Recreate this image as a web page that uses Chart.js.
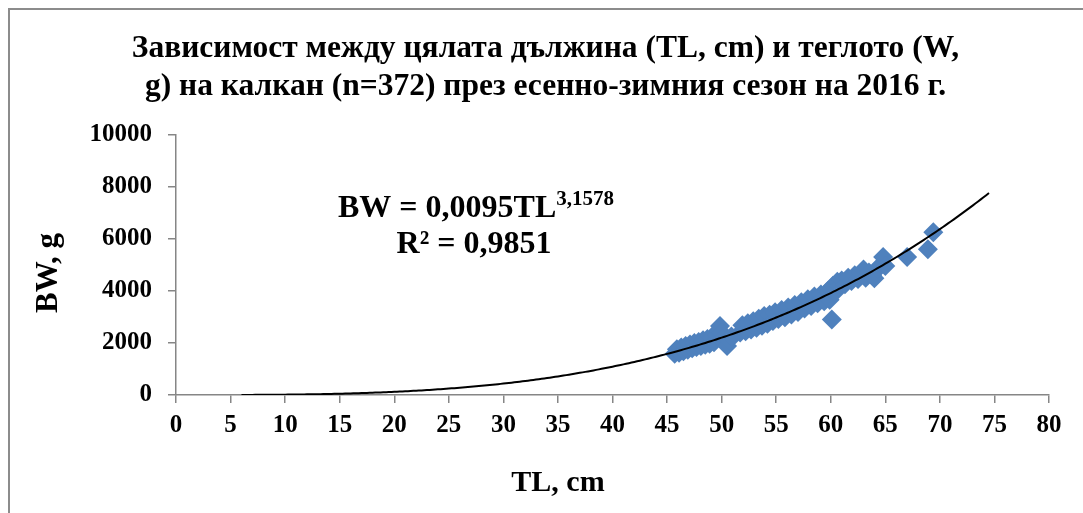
<!DOCTYPE html>
<html>
<head>
<meta charset="utf-8">
<script src="https://cdn.jsdelivr.net/npm/chart.js@4.4.1/dist/chart.umd.min.js"></script>
<style>
  html, body { margin: 0; padding: 0; background: #fff; overflow: hidden; }
  #wrap { position: relative; width: 1083px; height: 513px; }
  #frame { position: absolute; left: 8px; top: 8px; width: 1200px; height: 600px;
           border-left: 2px solid #8c8c8c; border-top: 2px solid #8c8c8c; box-sizing: border-box; }
  canvas { position: absolute; left: 0; top: 0; }
</style>
</head>
<body>
<div id="wrap">
  <div id="frame"></div>
  <canvas id="scatterChart" width="1083" height="513"></canvas>
</div>
<script>
// Data (TL in cm, BW in g)
var tl = [45.7, 45.9, 46.1, 46.3, 46.5, 46.7, 46.9, 47.1, 47.3, 47.5, 47.7, 47.9, 48.1, 48.3, 48.5,
          48.7, 48.9, 49.1, 49.3, 49.5, 49.7, 49.85, 50.0, 50.1, 50.3, 50.5, 50.7, 50.9,
          51.7, 51.9, 52.2, 52.4, 52.7, 52.9, 53.2, 53.4, 53.7, 53.9, 54.2, 54.4, 54.7, 54.9,
          55.2, 55.5, 55.8, 56.1, 56.4, 56.7, 57.0, 57.3, 57.6, 57.9, 58.2, 58.5, 58.8, 59.1,
          59.4, 59.7, 59.9, 60.0, 60.1, 60.2, 60.4, 60.6, 60.8, 61.0, 61.3, 61.6, 61.9, 62.2,
          62.5, 62.8, 63.0, 63.2, 63.5, 63.8, 64.0, 64.3, 64.6, 64.8, 65.0, 67.0, 68.9, 69.4];
var bw = [1580, 1760, 1620, 1820, 1680, 1880, 1740, 1940, 1800, 2000, 1840, 2040, 1880, 2100, 1930,
          2150, 1970, 2200, 2030, 2300, 2480, 2650, 2400, 2150, 2000, 1880, 2100, 2250,
          2400, 2680, 2450, 2760, 2520, 2830, 2580, 2930, 2660, 3030, 2740, 3080, 2840, 3180,
          2920, 3260, 2990, 3360, 3090, 3460, 3190, 3560, 3320, 3680, 3420, 3780, 3520, 3860,
          3600, 3980, 3660, 4050, 2900, 4200, 3950, 4350, 4200, 4400, 4250, 4500, 4380, 4600,
          4450, 4700, 4820, 4500, 4700, 4600, 4480, 4850, 5000, 5300, 4950, 5300, 5600, 6250];

// Power trend line BW = a * TL^b (coefficients from the chart's equation)
var trendA = 0.0095;
var trendB = 3.1578;
var trendFrom = 6;
var trendTo = 74.5;

var xTicks = [0, 5, 10, 15, 20, 25, 30, 35, 40, 45, 50, 55, 60, 65, 70, 75, 80];
var yTicks = [0, 2000, 4000, 6000, 8000, 10000];

var points = tl.map(function (x, i) { return { x: x, y: bw[i] }; });
var trend = [];
for (var t = trendFrom; t <= trendTo + 1e-9; t += 0.5) {
    trend.push({ x: t, y: trendA * Math.pow(t, trendB) });
}

var serif = "'Liberation Serif', 'Times New Roman', serif";
var axisGray = '#868686';

// equation and axis titles
var labelsPlugin = {
    id: 'labels',
    afterDraw: function (chart) {
        var c = chart.ctx;
        c.save();
        c.fillStyle = '#000';
        c.textBaseline = 'alphabetic';
        c.textAlign = 'left';
        c.font = 'bold 32px ' + serif;
        var main = 'BW = 0,0095TL';
        var mw = c.measureText(main).width;
        c.fillText(main, 338, 217);
        c.font = 'bold 21px ' + serif;
        c.fillText('3,1578', 338 + mw, 205);
        c.font = 'bold 32px ' + serif;
        c.textAlign = 'center';
        c.fillText('R² = 0,9851', 474, 253);

        c.font = 'bold 30px ' + serif;
        c.fillText('TL, cm', 558, 491);

        c.translate(57, 273);
        c.rotate(-Math.PI / 2);
        c.font = 'bold 31px ' + serif;
        c.fillText('BW, g', 0, 0);
        c.restore();
    }
};

var ctxS = document.getElementById('scatterChart').getContext('2d');
var scatterChart = new Chart(ctxS, {
    type: 'scatter',
    data: {
        datasets: [{
            label: 'BW',
            data: points,
            pointStyle: 'rectRot',
            pointRadius: 10,
            pointBackgroundColor: '#4F81BD',
            pointBorderColor: '#4F81BD',
            pointBorderWidth: 0,
            order: 2
        }, {
            type: 'line',
            label: 'trend',
            data: trend,
            borderColor: '#000',
            borderWidth: 2,
            pointRadius: 0,
            fill: false,
            tension: 0.3,
            order: 1
        }]
    },
    options: {
        responsive: false,
        animation: false,
        layout: { padding: { left: 42, right: 34, top: 0, bottom: 0 } },
        plugins: {
            legend: { display: false },
            tooltip: { enabled: false },
            title: {
                display: true,
                text: ['Зависимост между цялата дължина (TL, cm) и теглото (W,',
                       'g) на калкан (n=372) през есенно-зимния сезон на 2016 г.'],
                color: '#000',
                font: { family: serif, size: 31.5, weight: 'bold', lineHeight: 1.2 },
                padding: { top: 30, bottom: 29 }
            }
        },
        scales: {
            x: {
                type: 'linear',
                min: 0,
                max: 80,
                afterBuildTicks: function (s) { s.ticks = xTicks.map(function (v) { return { value: v }; }); },
                afterFit: function (s) { s.height = 118; },
                grid: { drawOnChartArea: false, color: axisGray, tickLength: 8, lineWidth: 1.5 },
                border: { color: axisGray, width: 1.5 },
                ticks: { color: '#000', padding: 8, maxRotation: 0,
                         font: { family: serif, size: 25, weight: 'bold' },
                         callback: function (v) { return String(v); } }
            },
            y: {
                type: 'linear',
                min: 0,
                max: 10000,
                afterBuildTicks: function (s) { s.ticks = yTicks.map(function (v) { return { value: v }; }); },
                afterFit: function (s) { s.width = 134; },
                grid: { drawOnChartArea: false, color: axisGray, tickLength: 8, lineWidth: 1.5 },
                border: { color: axisGray, width: 1.5 },
                ticks: { color: '#000', padding: 16,
                         font: { family: serif, size: 25, weight: 'bold' },
                         callback: function (v) { return String(v); } }
            }
        }
    },
    plugins: [labelsPlugin]
});
</script>
</body>
</html>
